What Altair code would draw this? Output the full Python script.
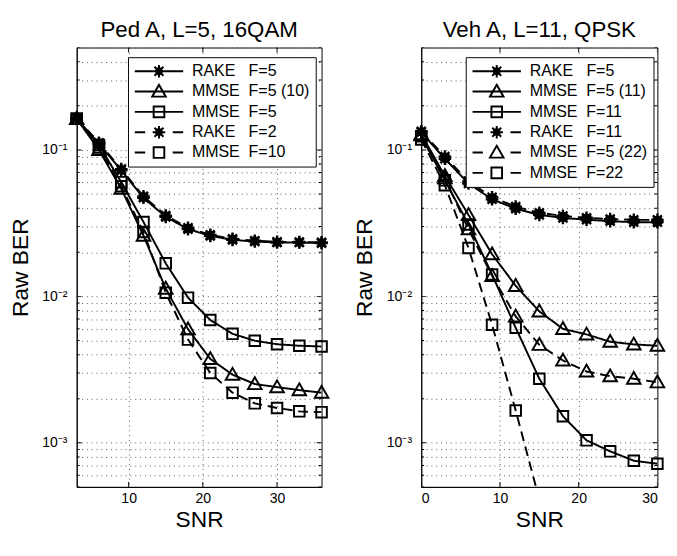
import altair as alt
import pandas as pd

NB = "\u00a0"

# ---------------- data: Ped A, L=5, 16QAM ----------------
snr_ped = [3, 6, 9, 12, 15, 18, 21, 24, 27, 30, 33, 36]
ped_rake_f5 = [0.163, 0.110, 0.0725, 0.0471, 0.0349, 0.0288, 0.0259, 0.0243, 0.0237, 0.0233, 0.0233, 0.0231]
ped_mmse_f5_10 = [0.163, 0.100, 0.0543, 0.0260, 0.0113, 0.00597, 0.00374, 0.00292, 0.00252, 0.00240, 0.00229, 0.00220]
ped_mmse_f5 = [0.163, 0.108, 0.0602, 0.0322, 0.0168, 0.0098, 0.0069, 0.00555, 0.00498, 0.00471, 0.00460, 0.00455]
ped_rake_f2 = [0.165, 0.112, 0.0740, 0.0482, 0.0356, 0.0294, 0.0263, 0.0247, 0.0240, 0.0236, 0.0235, 0.0234]
ped_mmse_f10 = [0.163, 0.104, 0.0565, 0.0275, 0.0106, 0.00507, 0.00300, 0.00220, 0.00186, 0.00173, 0.00164, 0.00162]

ped_names = ["RAKE" + NB * 3 + "F=5", "MMSE" + NB * 2 + "F=5 (10)", "MMSE" + NB * 2 + "F=5",
             "RAKE" + NB * 3 + "F=2", "MMSE" + NB * 2 + "F=10"]
ped_series = [(snr_ped, ped_rake_f5), (snr_ped, ped_mmse_f5_10), (snr_ped, ped_mmse_f5),
              (snr_ped, ped_rake_f2), (snr_ped, ped_mmse_f10)]
ped_style = [("star", False), ("tri", False), ("sq", False), ("star", True), ("sq", True)]

# ---------------- data: Veh A, L=11, QPSK ----------------
snr_veh = [0, 3, 6, 9, 12, 15, 18, 21, 24, 27, 30]
veh_rake_f5 = [0.132, 0.087, 0.059, 0.046, 0.0397, 0.036, 0.0343, 0.0334, 0.0326, 0.0321, 0.0321]
veh_mmse_f5_11 = [0.128, 0.0665, 0.036, 0.0194, 0.0118, 0.0079, 0.0060, 0.0055, 0.0049, 0.0047, 0.0046]
veh_mmse_f11 = [0.124, 0.062, 0.031, 0.0141, 0.0061, 0.00274, 0.00152, 0.00104, 0.000875, 0.000755, 0.00072]
veh_rake_f11 = [0.134, 0.090, 0.061, 0.0475, 0.041, 0.0372, 0.0354, 0.0344, 0.0337, 0.0333, 0.0333]
veh_mmse_f5_22 = [0.126, 0.064, 0.0288, 0.0138, 0.0073, 0.00467, 0.00365, 0.00307, 0.00285, 0.00274, 0.00259]
snr_veh_f22 = [0, 3, 6, 9, 12, 15]
veh_mmse_f22 = [0.118, 0.0574, 0.0214, 0.0064, 0.00166, 0.00041]

veh_names = ["RAKE" + NB * 3 + "F=5", "MMSE" + NB * 2 + "F=5 (11)", "MMSE" + NB * 2 + "F=11",
             "RAKE" + NB * 3 + "F=11", "MMSE" + NB * 2 + "F=5 (22)", "MMSE" + NB * 2 + "F=22"]
veh_series = [(snr_veh, veh_rake_f5), (snr_veh, veh_mmse_f5_11), (snr_veh, veh_mmse_f11),
              (snr_veh, veh_rake_f11), (snr_veh, veh_mmse_f5_22), (snr_veh_f22, veh_mmse_f22)]
veh_style = [("star", False), ("tri", False), ("sq", False), ("star", True), ("tri", True), ("sq", True)]

# ---------------- styling ----------------
FONT = "Liberation Sans"
YMIN, YMAX = 5e-4, 0.5
H = 454

# marker paths for data points (size 196 -> 1 unit = 7 px)
DATA_PATH = {
    "star": "M-0.93,0L0.93,0M0,-0.93L0,0.93M-0.66,-0.66L0.66,0.66M-0.66,0.66L0.66,-0.66"
            "M-0.4,-0.4L0.4,-0.4L0.4,0.4L-0.4,0.4ZM-0.2,-0.2L0.2,-0.2L0.2,0.2L-0.2,0.2Z",
    "tri": "M0,-1L1,0.75L-1,0.75Z",
    "sq": "M-0.78,-0.78L0.78,-0.78L0.78,0.78L-0.78,0.78Z",
}
# legend symbol paths (size 2500 -> 1 unit = 25 px): line sample + marker
LEG_MARK = {
    "star": "M-0.26,0L0.26,0M0,-0.26L0,0.26M-0.185,-0.185L0.185,0.185M-0.185,0.185L0.185,-0.185"
            "M-0.11,-0.11L0.11,-0.11L0.11,0.11L-0.11,0.11Z",
    "tri": "M0,-0.28L0.28,0.21L-0.28,0.21Z",
    "sq": "M-0.22,-0.22L0.22,-0.22L0.22,0.22L-0.22,0.22Z",
}
LEG_LINE = {False: "M-1,0L1,0", True: "M-1,0L-0.57,0M0.57,0L1,0"}

yticks = []
for dec in [1e-4, 1e-3, 1e-2, 1e-1]:
    for k in range(1, 10):
        v = round(k * dec, 8)
        if YMIN - 1e-12 <= v <= YMAX + 1e-12:
            yticks.append(v)
ymajor = [1e-3, 1e-2, 1e-1]

ylabel_expr = ("abs(log(datum.value)/LN10 + 1) < 0.01 ? '10\u207b\u00b9' : "
               "abs(log(datum.value)/LN10 + 2) < 0.01 ? '10\u207b\u00b2' : "
               "abs(log(datum.value)/LN10 + 3) < 0.01 ? '10\u207b\u00b3' : ''")


def panel(title, names, series, style, xdomain, xvalues, width, legend_x):
    rows = []
    for name, (xs, ys), (_, dashed) in zip(names, series, style):
        for xv, yv in zip(xs, ys):
            rows.append({"snr": xv, "ber": yv, "series": name,
                         "dash": "dashed" if dashed else "solid"})
    df = pd.DataFrame(rows)
    base = alt.Chart(df)

    xscale = alt.Scale(domain=xdomain, nice=False, zero=False)
    yscale = alt.Scale(type="log", domain=[YMIN, YMAX], nice=False)
    x = alt.X("snr:Q", scale=xscale,
              axis=alt.Axis(values=xvalues, title="SNR", format="d",
                            grid=True, gridDash=[1, 4], gridColor="#555", gridWidth=1,
                            tickSize=0, labelPadding=5, titlePadding=3,
                            labelFontSize=14.5, titleFontSize=23.5))
    y = alt.Y("ber:Q", scale=yscale,
              axis=alt.Axis(values=yticks, labelExpr=ylabel_expr, title="Raw BER",
                            grid=True, gridDash=[1, 4], gridColor="#555", gridWidth=1,
                            tickSize=0, labelPadding=10, titlePadding=10,
                            labelFontSize=14.5, titleFontSize=23.5))

    lines = base.mark_line(color="black", strokeWidth=2, clip=True).encode(
        x=x, y=y, detail="series:N",
        strokeDash=alt.StrokeDash("dash:N",
                                  scale=alt.Scale(domain=["solid", "dashed"], range=[[1, 0], [10, 6]]),
                                  legend=None),
    )

    layers = [lines]
    for m in ["star", "tri", "sq"]:
        members = [n for n, (mm, _) in zip(names, style) if mm == m]
        if not members:
            continue
        pts = (base.transform_filter(alt.FieldOneOfPredicate(field="series", oneOf=members))
               .transform_filter(f"datum.ber >= {YMIN}")
               .mark_point(shape=DATA_PATH[m], size=196, color="black",
                           strokeWidth=2.4 if m == "star" else 2,
                           filled=False, opacity=1)
               .encode(x=x, y=y))
        layers.append(pts)

    # inward tick marks on all four sides (half of each tick is clipped away)
    xt = alt.Chart(pd.DataFrame({"snr": xvalues}))
    for ypos in [0, H]:
        layers.append(xt.mark_tick(color="black", size=10, thickness=1, clip=True, opacity=1)
                      .encode(x=x, y=alt.value(ypos)))
    yt_major = alt.Chart(pd.DataFrame({"ber": ymajor}))
    yt_minor = alt.Chart(pd.DataFrame({"ber": [v for v in yticks if v not in ymajor]}))
    for xpos in [0, width]:
        layers.append(yt_major.mark_tick(color="black", size=10, thickness=1, clip=True, opacity=1)
                      .encode(y=y, x=alt.value(xpos)))
        layers.append(yt_minor.mark_tick(color="black", size=6, thickness=1, clip=True, opacity=1)
                      .encode(y=y, x=alt.value(xpos)))

    # legend carrier: one point per entry, placed left of the x domain and clipped away
    leg_paths = [LEG_LINE[d] + LEG_MARK[m] for (m, d) in style]
    leg_df = pd.DataFrame({"series": names,
                           "snr": [xdomain[0] - 1000] * len(names),
                           "ber": [0.1] * len(names)})
    leg = (alt.Chart(leg_df)
           .mark_point(size=2500, color="black", strokeWidth=2, filled=False, opacity=1, clip=True)
           .encode(x=x, y=y,
                   shape=alt.Shape("series:N",
                                   scale=alt.Scale(domain=names, range=leg_paths),
                                   legend=alt.Legend(orient="none", legendX=legend_x, legendY=10,
                                                     title=None, padding=6, rowPadding=4,
                                                     clipHeight=17,
                                                     labelOffset=8, labelFont=FONT,
                                                     labelFontSize=16.5, labelColor="black",
                                                     labelLimit=400, fillColor="white",
                                                     strokeColor="black", cornerRadius=0,
                                                     symbolSize=2500, symbolStrokeWidth=2,
                                                     symbolStrokeColor="black",
                                                     symbolFillColor="transparent"))))
    layers.append(leg)

    return alt.layer(*layers).properties(
        width=width, height=H,
        title=alt.TitleParams(text=title, fontSize=23, font=FONT, fontWeight="normal",
                              color="black", offset=5),
    )


left = panel("Ped A, L=5, 16QAM", ped_names, ped_series, ped_style,
             [3, 36], [10, 20, 30], 253, 53)
right = panel("Veh A, L=11, QPSK", veh_names, veh_series, veh_style,
              [0, 30], [0, 10, 20, 30], 244, 46)

chart = (alt.hconcat(left, right, spacing=20, background="white",
                     padding={"left": 0, "top": 3, "right": 0, "bottom": 0})
         .resolve_scale(shape="independent", strokeDash="independent")
         .configure_view(stroke="black", strokeWidth=1)
         .configure_axis(domainColor="black", domainWidth=1, labelFont=FONT, titleFont=FONT,
                         labelColor="black", titleColor="black", titleFontWeight="normal"))

chart.save("out.html", embed_options={"renderer": "svg", "actions": False})
